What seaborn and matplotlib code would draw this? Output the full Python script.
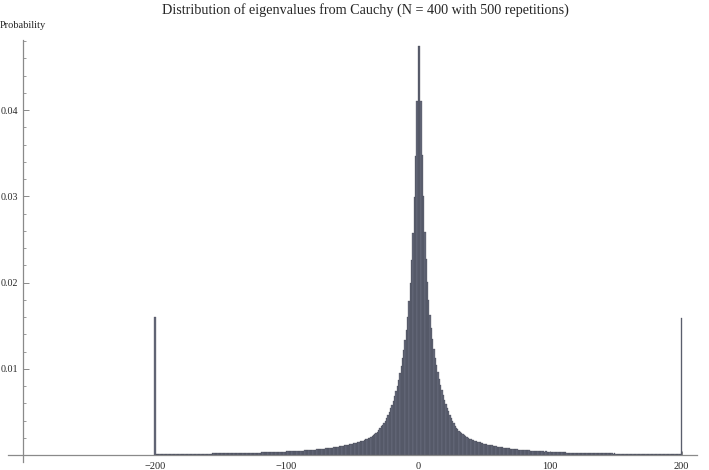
import numpy as np
import pandas as pd
import matplotlib
matplotlib.use("Agg")
import matplotlib.pyplot as plt
import seaborn as sns
from matplotlib.ticker import MultipleLocator, FixedLocator

# probabilities, in units of 1e-5
# right half: bins 1 .. 199 going outward from the centre
right_probs = [
    4740, 4110, 3480, 3000, 2590, 2270, 2010, 1800, 1620, 1470,
    1340, 1230, 1130, 1040, 960, 880, 810, 750, 695, 640,
    590, 545, 505, 465, 430, 398, 368, 342, 318, 297,
    279, 264, 250, 238, 227, 216, 207, 198, 190, 183,
    176, 170, 164, 159, 156, 151, 147, 141, 137, 131,
    127, 124, 120, 116, 113, 111, 107, 104, 101, 98,
    95, 93, 89, 88, 84, 83, 79, 78, 76, 73,
    72, 70, 69, 66, 65, 63, 62, 60, 58, 57,
    56, 55, 53, 54, 51, 49, 48, 49, 46, 45,
    45, 44, 42, 42, 41, 40, 41, 39, 38, 37,
    37, 36, 35, 36, 34, 33, 33, 31, 32, 31,
    31, 30, 29, 29, 29, 28, 27, 27, 27, 26,
    26, 26, 25, 24, 25, 24, 23, 24, 23, 22,
    23, 22, 21, 22, 21, 21, 20, 21, 20, 19,
    20, 19, 19, 18, 19, 18, 18, 17, 18, 17,
    17, 16, 17, 16, 16, 16, 15, 16, 15, 15,
    15, 14, 15, 15, 14, 14, 14, 13, 14, 13,
    14, 13, 13, 12, 13, 13, 12, 12, 12, 12,
    12, 11, 12, 12, 11, 11, 11, 11, 10, 11,
    11, 10, 11, 10, 10, 10, 10, 9, 10,
]
# left half: bins 0 .. -199 going outward from the centre
left_probs = [
    4740, 4100, 3470, 2990, 2580, 2265, 2000, 1790, 1605, 1455,
    1330, 1215, 1120, 1035, 950, 875, 805, 740, 685, 630,
    585, 540, 498, 462, 428, 400, 372, 352, 334, 312,
    288, 270, 256, 243, 230, 220, 210, 203, 194, 186,
    180, 174, 167, 163, 157, 153, 148, 144, 139, 136,
    131, 128, 124, 121, 117, 114, 112, 108, 105, 102,
    99, 97, 94, 92, 89, 87, 85, 83, 80, 79,
    77, 75, 73, 71, 70, 68, 66, 65, 63, 62,
    61, 59, 58, 57, 56, 54, 53, 52, 51, 50,
    49, 48, 47, 47, 46, 45, 44, 43, 43, 42,
    41, 40, 40, 39, 38, 38, 37, 36, 36, 35,
    35, 34, 34, 33, 32, 32, 31, 31, 30, 30,
    29, 29, 29, 28, 28, 27, 27, 26, 26, 26,
    25, 25, 25, 24, 24, 24, 23, 23, 23, 22,
    22, 22, 21, 21, 21, 21, 20, 20, 20, 19,
    19, 19, 19, 18, 18, 18, 18, 17, 17, 17,
    17, 17, 16, 16, 16, 16, 16, 15, 15, 15,
    15, 15, 15, 14, 14, 14, 14, 14, 14, 13,
    13, 13, 13, 13, 13, 13, 12, 12, 12, 12,
    12, 12, 12, 12, 11, 11, 11, 11, 11, 11,
]
# eigenvalues beyond +-200 piled into the end bins
edge_left = 1604
edge_right = 1585

bin_centers = list(range(-200, 201))
probs = [edge_left] + left_probs[::-1] + right_probs + [edge_right]
df = pd.DataFrame({"eigenvalue": bin_centers,
                   "prob": [p * 1e-5 for p in probs]})

x_ticks = [-200, -100, 0, 100, 200]
y_ticks = [0.01, 0.02, 0.03, 0.04]

sns.set_style("white")
plt.rcParams["font.family"] = ["Liberation Serif", "DejaVu Serif"]

fig = plt.figure(figsize=(7.09, 4.70), dpi=100)
ax = fig.add_axes([8 / 709, 1 - 462 / 470, (697 - 8) / 709, (462 - 40) / 470])

sns.histplot(data=df, x="eigenvalue", weights="prob",
             binwidth=1, binrange=(-200.5, 200.5),
             color="#676b7c", edgecolor="#3a3d4a", linewidth=0.2,
             alpha=1, ax=ax)

ax.set_xlim(-311.5, 211.6)
ax.set_ylim(-0.00081, 0.04812)

for s in ["top", "right"]:
    ax.spines[s].set_visible(False)
ax.spines["left"].set_position(("data", -300.4))
ax.spines["bottom"].set_position(("data", 0))
for s in ["left", "bottom"]:
    ax.spines[s].set_color("#8a8a8a")
    ax.spines[s].set_linewidth(0.9)

ax.xaxis.set_major_locator(FixedLocator(x_ticks))
ax.set_xticklabels(["\u2212200", "\u2212100", "0", "100", "200"])
ax.yaxis.set_major_locator(FixedLocator(y_ticks))
ax.set_yticklabels(["0.01", "0.02", "0.03", "0.04"])
ax.yaxis.set_minor_locator(MultipleLocator(0.002))
ax.tick_params(axis="y", which="major", direction="in", length=4, width=0.7,
               color="#8a8a8a", labelsize=7.2, pad=3, left=True)
ax.tick_params(axis="y", which="minor", direction="in", length=2, width=0.6,
               color="#8a8a8a", left=True)
ax.tick_params(axis="x", which="major", direction="in", length=3, width=0.7,
               color="#8a8a8a", labelsize=7.5, pad=5, bottom=True)

ax.set_xlabel("")
ax.set_ylabel("")

fig.text(365 / 709, 1 - 10 / 470, "Distribution of eigenvalues from Cauchy (N = 400 with 500 repetitions)",
         ha="center", va="center", fontsize=10.2)
fig.text(0.0, 1 - 25 / 470, "Probability", ha="left", va="center", fontsize=7.5)

fig.savefig("out.png", dpi=100)
